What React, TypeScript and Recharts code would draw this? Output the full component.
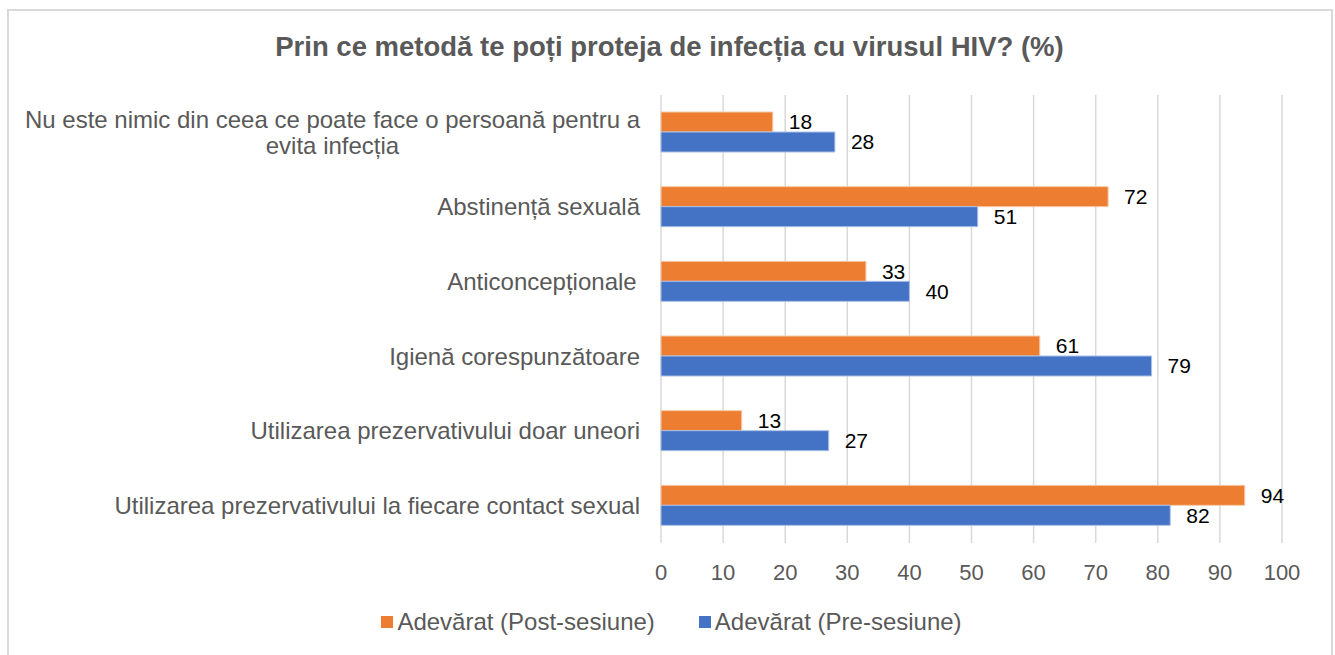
import React from 'react';
import { BarChart, Bar, XAxis, YAxis, CartesianGrid, LabelList } from 'recharts';

const categories = [
  'Nu este nimic din ceea ce poate face o persoană pentru a evita infecția',
  'Abstinență sexuală',
  'Anticoncepționale ',
  'Igienă corespunzătoare',
  'Utilizarea prezervativului doar uneori',
  'Utilizarea prezervativului la fiecare contact sexual',
];
const postValues = [18, 72, 33, 61, 13, 94];
const preValues = [28, 51, 40, 79, 27, 82];
const xTicks = [0, 10, 20, 30, 40, 50, 60, 70, 80, 90, 100];

const POST_NAME = 'Adevărat (Post-sesiune)';
const PRE_NAME = 'Adevărat (Pre-sesiune)';
const ORANGE = '#ED7D31';
const BLUE = '#4472C4';
const TEXT = '#595959';
const FONT = "'Liberation Sans', Arial, sans-serif";
const CAT_SIZE = 24;

const data = categories.map((c, i) => ({ name: c, post: postValues[i], pre: preValues[i] }));

let ctx: CanvasRenderingContext2D | null = null;
const measure = (s: string) => {
  if (!ctx) ctx = document.createElement('canvas').getContext('2d');
  if (!ctx) return s.length * CAT_SIZE * 0.5;
  ctx.font = `${CAT_SIZE}px ${FONT}`;
  return ctx.measureText(s).width;
};

const wrap = (text: string, maxW: number) => {
  const words = text.split(' ');
  const lines: string[] = [];
  let cur = '';
  words.forEach((w) => {
    const t = cur ? cur + ' ' + w : w;
    if (measure(t) > maxW && cur) {
      lines.push(cur);
      cur = w;
    } else cur = t;
  });
  if (cur) lines.push(cur);
  return lines;
};

// category labels: wrapped, lines centred on each other, block right-aligned
const CategoryTick = (props: any) => {
  const { x, y, payload } = props;
  const lines = wrap(payload.value, 630);
  const widths = lines.map(measure);
  const maxW = Math.max(...widths);
  const lh = 26;
  const startY = y - ((lines.length - 1) * lh) / 2;
  return (
    <g>
      {lines.map((l, i) => (
        <text
          key={i}
          x={x - maxW / 2}
          y={startY + i * lh}
          dy="0.35em"
          textAnchor="middle"
          fill={TEXT}
          fontSize={CAT_SIZE}
          fontFamily={FONT}
        >
          {l}
        </text>
      ))}
    </g>
  );
};

const LegendRow = () => (
  <div
    style={{
      position: 'absolute',
      top: 608,
      left: 0,
      width: 1335,
      display: 'flex',
      justifyContent: 'center',
      gap: 44,
      fontFamily: FONT,
      fontSize: 24,
      color: TEXT,
      paddingLeft: 8,
      boxSizing: 'border-box',
    }}
  >
    {[
      { n: POST_NAME, c: ORANGE },
      { n: PRE_NAME, c: BLUE },
    ].map((it) => (
      <div key={it.n} style={{ display: 'flex', alignItems: 'center' }}>
        <span style={{ width: 12, height: 12, background: it.c, marginRight: 4, display: 'inline-block' }} />
        <span>{it.n}</span>
      </div>
    ))}
  </div>
);

export default function App() {
  return (
    <div style={{ position: 'absolute', left: 0, top: 0, width: 1335, height: 655, background: '#fff', overflow: 'hidden' }}>
      <div
        style={{
          position: 'absolute',
          left: 7,
          top: 9,
          width: 1326,
          height: 700,
          border: '2px solid #d9d9d9',
          boxSizing: 'border-box',
        }}
      />
      <div
        style={{
          position: 'absolute',
          top: 31,
          left: 0,
          width: 1335,
          paddingLeft: 4,
          boxSizing: 'border-box',
          textAlign: 'center',
          fontFamily: FONT,
          fontWeight: 'bold',
          fontSize: 27.5,
          color: TEXT,
        }}
      >
        Prin ce metodă te poți proteja de infecția cu virusul HIV? (%)
      </div>
      <div style={{ position: 'absolute', left: 0, top: 0 }}>
        <BarChart
          width={1335}
          height={655}
          data={data}
          layout="vertical"
          margin={{ top: 95, right: 53, bottom: 82, left: 0 }}
          barSize={20}
          barGap={0}
        >
          <CartesianGrid horizontal={false} stroke="#d9d9d9" strokeWidth={1.5} />
          <XAxis
            type="number"
            domain={[0, 100]}
            ticks={xTicks}
            interval={0}
            height={30}
            axisLine={false}
            tickLine={false}
            tickSize={0}
            tickMargin={21}
            tick={{ fill: TEXT, fontSize: 22, fontFamily: FONT }}
          />
          <YAxis
            type="category"
            dataKey="name"
            width={661}
            axisLine={false}
            tickLine={false}
            tickSize={0}
            tickMargin={21}
            interval={0}
            tick={<CategoryTick />}
          />
          <Bar dataKey="post" name={POST_NAME} fill={ORANGE} stroke="#f6c9a8" strokeWidth={1} isAnimationActive={false}>
            <LabelList dataKey="post" position="right" offset={16} fill="#000" fontSize={21} fontFamily={FONT} />
          </Bar>
          <Bar dataKey="pre" name={PRE_NAME} fill={BLUE} stroke="#a9bfe6" strokeWidth={1} isAnimationActive={false}>
            <LabelList dataKey="pre" position="right" offset={16} fill="#000" fontSize={21} fontFamily={FONT} />
          </Bar>
        </BarChart>
      </div>
      <LegendRow />
    </div>
  );
}
